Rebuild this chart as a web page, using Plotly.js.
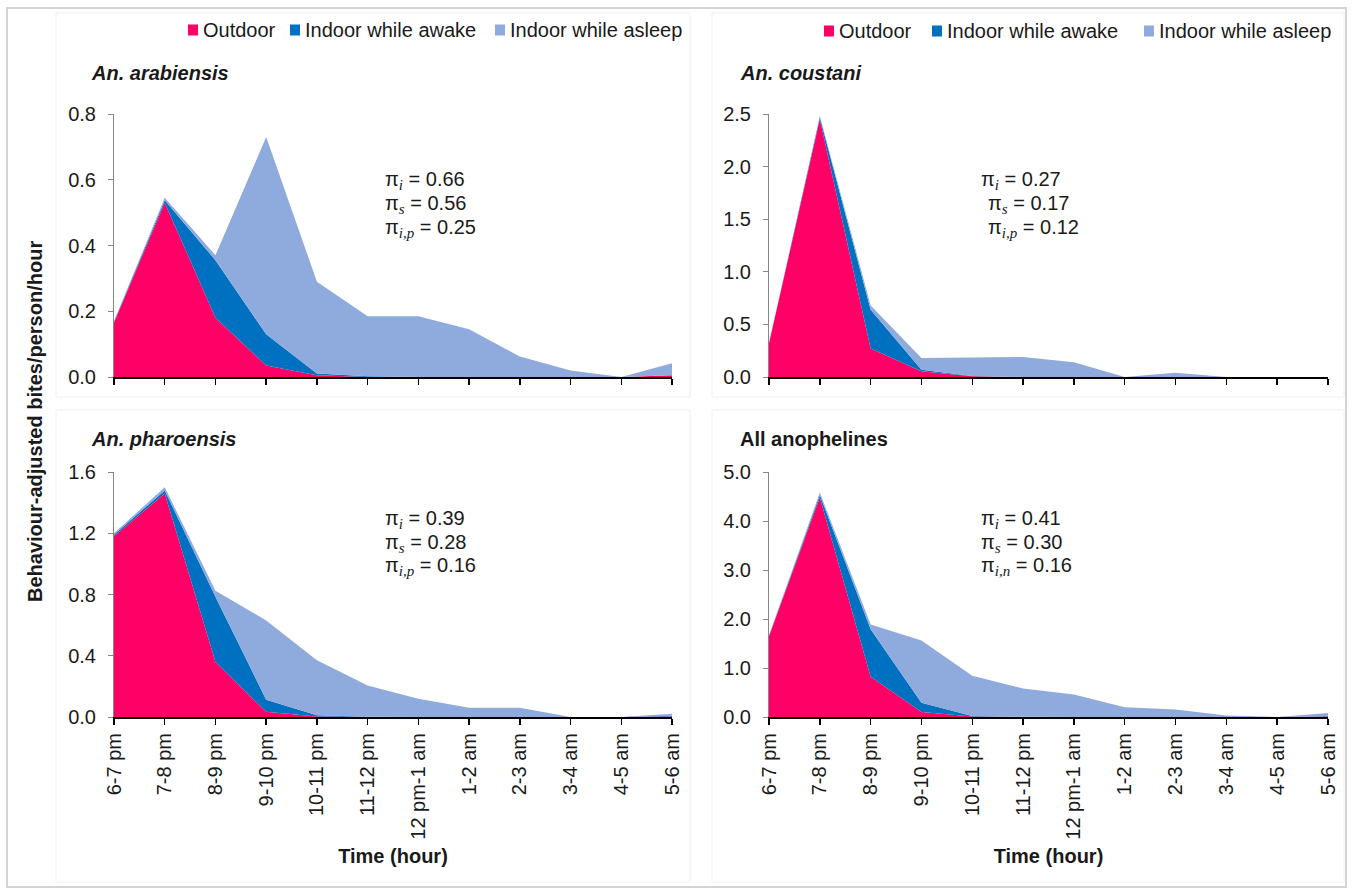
<!DOCTYPE html>
<html>
<head>
<meta charset="utf-8">
<script src="https://cdn.plot.ly/plotly-3.0.1.min.js"></script>
<style>
  html, body { margin: 0; padding: 0; background: #ffffff; }
  #chart { width: 1352px; height: 888px; }
</style>
</head>
<body>
<div id="chart"></div>
<script>
// Hourly biting periods, 6 pm to 6 am
const hours = ["6-7 pm", "7-8 pm", "8-9 pm", "9-10 pm", "10-11 pm", "11-12 pm",
               "12 pm-1 am", "1-2 am", "2-3 am", "3-4 am", "4-5 am", "5-6 am"];

const seriesNames = ["Outdoor", "Indoor while awake", "Indoor while asleep"];
const seriesColors = ["#FF0066", "#0070C0", "#8FAADC"];

// Behaviour-adjusted bites/person/hour, per exposure setting
const arabiensisOutdoor = [0.165, 0.53, 0.18, 0.035, 0.005, 0, 0, 0, 0, 0, 0, 0.005];
const arabiensisAwake   = [0.003, 0.008, 0.175, 0.095, 0.006, 0.002, 0, 0, 0, 0, 0, 0];
const arabiensisAsleep  = [0.002, 0.007, 0.015, 0.60, 0.279, 0.183, 0.185, 0.145, 0.062, 0.02, 0, 0.037];

const coustaniOutdoor = [0.32, 2.45, 0.27, 0.054, 0.006, 0, 0, 0, 0, 0, 0, 0];
const coustaniAwake   = [0, 0.02, 0.37, 0.016, 0.004, 0, 0, 0, 0, 0, 0, 0];
const coustaniAsleep  = [0, 0.01, 0.04, 0.11, 0.175, 0.19, 0.14, 0, 0.04, 0, 0, 0];

const pharoensisOutdoor = [1.18, 1.46, 0.36, 0.035, 0.004, 0, 0, 0, 0, 0, 0, 0.004];
const pharoensisAwake   = [0.01, 0.02, 0.425, 0.078, 0.008, 0.002, 0, 0, 0, 0, 0, 0.004];
const pharoensisAsleep  = [0.01, 0.02, 0.04, 0.517, 0.358, 0.203, 0.12, 0.06, 0.06, 0, 0, 0.014];

const allOutdoor = [1.65, 4.48, 0.82, 0.10, 0.01, 0, 0, 0, 0, 0, 0, 0.01];
const allAwake   = [0.01, 0.05, 0.97, 0.19, 0.01, 0.005, 0, 0, 0, 0, 0, 0.01];
const allAsleep  = [0.01, 0.05, 0.10, 1.27, 0.82, 0.575, 0.46, 0.20, 0.155, 0.03, 0, 0.06];

// Panel titles and proportions of exposure
const panelTitles = ["<i>An. arabiensis</i>", "<i>An. coustani</i>", "<i>An. pharoensis</i>", "All anophelines"];
const piIndoor  = ["0.66", "0.27", "0.39", "0.41"];
const piSleep   = ["0.56", "0.17", "0.28", "0.30"];
const piNet     = ["0.25", "0.12", "0.16", "0.16"];
const piNetSub  = ["i,p", "i,p", "i,p", "i,n"];

const yMax   = [0.8, 2.5, 1.6, 5.0];
const yDtick = [0.2, 0.5, 0.4, 1.0];

const W = 1352, H = 888;
const px = v => v / W;
const py = v => 1 - v / H;

const FONT = "Liberation Sans, Arial, Helvetica, sans-serif";
const SERIF = "Liberation Serif";
const TXT = "#1a1a1a";

const panelData = [
  [arabiensisOutdoor, arabiensisAwake, arabiensisAsleep],
  [coustaniOutdoor, coustaniAwake, coustaniAsleep],
  [pharoensisOutdoor, pharoensisAwake, pharoensisAsleep],
  [allOutdoor, allAwake, allAsleep]
];

// plot-area geometry (pixels)
const colX = [[114, 672], [769, 1328]];
const rowY = [[114, 377], [472, 717]];

const xIdx = hours.map((h, i) => i);
const traces = [];
panelData.forEach((series, p) => {
  const ax = p === 0 ? "" : String(p + 1);
  series.forEach((vals, s) => {
    traces.push({
      x: xIdx, y: vals, type: "scatter", mode: "none",
      stackgroup: "g" + p, fillcolor: seriesColors[s],
      name: seriesNames[s], xaxis: "x" + ax, yaxis: "y" + ax,
      hoverinfo: "skip", showlegend: false
    });
  });
});

const layout = {
  width: W, height: H,
  margin: { l: 0, r: 0, t: 0, b: 0 },
  paper_bgcolor: "#ffffff", plot_bgcolor: "#ffffff",
  showlegend: false,
  font: { family: FONT, size: 20, color: TXT },
  annotations: [], shapes: []
};

for (let p = 0; p < 4; p++) {
  const col = p % 2, row = Math.floor(p / 2);
  const ax = p === 0 ? "" : String(p + 1);
  const bottom = row === 1;
  const xa = {
    domain: [px(colX[col][0]), px(colX[col][1])],
    anchor: "y" + ax, range: [0, 11],
    showline: true, linecolor: "#000000", linewidth: 2,
    showgrid: false, zeroline: false, fixedrange: true,
    tickfont: { family: FONT, size: 20, color: TXT }
  };
  if (bottom) {
    Object.assign(xa, {
      tickmode: "array", tickvals: xIdx, ticktext: hours, tickangle: -90,
      ticks: "outside", ticklen: 6, tickwidth: 1.5, tickcolor: "#000000",
      title: { text: "<b>Time (hour)</b>", standoff: 10,
               font: { family: FONT, size: 20, color: TXT } }
    });
  } else {
    // upper panels: tick marks only, the hour labels sit under the lower panels
    Object.assign(xa, {
      tickmode: "array", tickvals: [], ticks: "", showticklabels: false,
      minor: { tickmode: "array", tickvals: xIdx, ticks: "outside",
               ticklen: 6, tickwidth: 1.5, tickcolor: "#000000", showgrid: false }
    });
  }
  layout["xaxis" + ax] = xa;
  layout["yaxis" + ax] = {
    domain: [py(rowY[row][1]), py(rowY[row][0])],
    anchor: "x" + ax, range: [0, yMax[p]], dtick: yDtick[p], tick0: 0,
    tickformat: ".1f",
    ticks: "outside", ticklen: 5, tickwidth: 1, tickcolor: "#868686",
    showline: true, linecolor: "#868686", linewidth: 1,
    showgrid: false, zeroline: false, fixedrange: true,
    ticklabelstandoff: 8,
    tickfont: { family: FONT, size: 20, color: TXT }
  };

  // panel title
  const titleX = col === 0 ? 89 : 738;
  const titleY = row === 0 ? 73 : 439;
  layout.annotations.push({
    xref: "paper", yref: "paper", x: px(titleX), y: py(titleY),
    xanchor: "left", yanchor: "middle", showarrow: false,
    text: "<b>" + panelTitles[p] + "</b>",
    font: { family: FONT, size: 20, color: TXT }
  });

  // proportion labels
  const sub = s => "<sub><span style=\"font-family:" + SERIF + ";font-size:15px;font-style:italic\">" + s + "</span></sub>";
  const lines = [
    "π" + sub("i") + " = " + piIndoor[p],
    "π" + sub("s") + " = " + piSleep[p],
    "π" + sub(piNetSub[p]) + " = " + piNet[p]
  ];
  const baseX = col === 0 ? 383 : 979;
  const indent = p === 1 ? [0, 7, 7] : [0, 0, 0];
  const rowsY = row === 0 ? [180, 204, 228] : [519, 543, 566];
  lines.forEach((t, k) => {
    layout.annotations.push({
      xref: "paper", yref: "paper", x: px(baseX + indent[k]), y: py(rowsY[k]),
      xanchor: "left", yanchor: "middle", showarrow: false, text: t,
      font: { family: FONT, size: 20, color: TXT }
    });
  });
}

// legends above the top panels
const legendSets = [
  { y: 30, swatch: [188, 290, 495] },
  { y: 31, swatch: [824, 932, 1144] }
];
legendSets.forEach(L => {
  seriesNames.forEach((n, s) => {
    const x0 = L.swatch[s];
    layout.shapes.push({
      type: "rect", xref: "paper", yref: "paper",
      x0: px(x0), x1: px(x0 + 10), y0: py(L.y + 5.5), y1: py(L.y - 5.5),
      fillcolor: seriesColors[s], line: { width: 0 }
    });
    layout.annotations.push({
      xref: "paper", yref: "paper", x: px(x0 + 13), y: py(L.y),
      xanchor: "left", yanchor: "middle", showarrow: false, text: n,
      font: { family: FONT, size: 20, color: TXT }
    });
  });
});

// shared y-axis title
layout.annotations.push({
  xref: "paper", yref: "paper", x: px(35), y: py(422),
  xanchor: "center", yanchor: "middle", showarrow: false, textangle: -90,
  text: "<b>Behaviour-adjusted bites/person/hour</b>",
  font: { family: FONT, size: 20, color: TXT }
});

// figure frame and faint chart-area outlines
const boxes = [[56, 13, 690, 397], [712, 13, 1344, 397], [56, 410, 690, 882], [712, 410, 1344, 882]];
boxes.forEach(b => {
  layout.shapes.push({
    type: "rect", xref: "paper", yref: "paper", layer: "below",
    x0: px(b[0]), x1: px(b[2]), y0: py(b[3]), y1: py(b[1]),
    line: { color: "#f0f0f0", width: 1 }
  });
});
layout.shapes.push({
  type: "rect", xref: "paper", yref: "paper", layer: "above",
  x0: px(7), x1: px(1346), y0: py(887), y1: py(8),
  line: { color: "#d4d4d4", width: 2 }
});

Plotly.newPlot("chart", traces, layout, { staticPlot: true, displayModeBar: false });
</script>
</body>
</html>
